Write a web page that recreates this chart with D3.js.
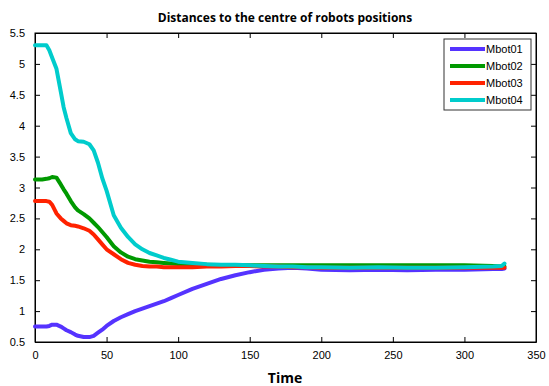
<html>
<head>
<meta charset="UTF-8">
<script src="https://d3js.org/d3.v7.min.js"></script>
<style>
  body { margin: 0; background: #fff; }
  text { font-family: "Liberation Sans Narrow", "Liberation Sans", Arial, sans-serif; }
</style>
</head>
<body>
<svg width="549" height="386"></svg>
<script>
// values
const time = [0, 5, 8, 10, 12, 15, 18, 20, 22, 25, 28, 30, 34, 38, 41, 44, 47, 50, 55, 60, 65, 70, 75, 80, 85, 90, 95, 100,
  110, 120, 130, 140, 150, 160, 170, 180, 190, 200, 220, 240, 260, 280, 300, 320, 326, 328];
const mbot01 = [0.75, 0.75, 0.75, 0.76, 0.78, 0.78, 0.75, 0.72, 0.69, 0.66, 0.62, 0.6, 0.58, 0.58, 0.6, 0.65, 0.7, 0.76, 0.84, 0.9,
  0.95, 1.0, 1.04, 1.08, 1.12, 1.16, 1.21, 1.26, 1.36, 1.44, 1.52, 1.58, 1.63, 1.67, 1.69, 1.7, 1.69, 1.67, 1.66, 1.67, 1.66,
  1.67, 1.67, 1.68, 1.68, 1.69];
const mbot02 = [3.13, 3.13, 3.14, 3.15, 3.17, 3.16, 3.05, 2.97, 2.9, 2.78, 2.68, 2.63, 2.57, 2.5, 2.43, 2.36, 2.28, 2.2, 2.05, 1.95,
  1.88, 1.84, 1.82, 1.8, 1.79, 1.78, 1.77, 1.76, 1.75, 1.75, 1.74, 1.74, 1.74, 1.74, 1.74, 1.74, 1.74, 1.74, 1.74, 1.74, 1.74,
  1.74, 1.74, 1.73, 1.72, 1.72];
const mbot03 = [2.78, 2.78, 2.78, 2.77, 2.72, 2.58, 2.5, 2.46, 2.42, 2.39, 2.38, 2.37, 2.34, 2.3, 2.24, 2.16, 2.08, 2.0, 1.92, 1.84,
  1.78, 1.75, 1.73, 1.72, 1.72, 1.71, 1.71, 1.71, 1.71, 1.72, 1.72, 1.73, 1.73, 1.72, 1.72, 1.71, 1.71, 1.7, 1.7, 1.7, 1.7,
  1.7, 1.7, 1.7, 1.7, 1.7];
const mbot04 = [5.3, 5.3, 5.3, 5.22, 5.1, 4.92, 4.55, 4.3, 4.12, 3.88, 3.78, 3.75, 3.74, 3.7, 3.6, 3.4, 3.15, 2.95, 2.55, 2.35,
  2.2, 2.08, 2.0, 1.94, 1.9, 1.86, 1.83, 1.8, 1.78, 1.76, 1.75, 1.75, 1.74, 1.73, 1.72, 1.72, 1.71, 1.71, 1.7, 1.71, 1.7,
  1.7, 1.71, 1.72, 1.73, 1.77];
const names = ["Mbot01", "Mbot02", "Mbot03", "Mbot04"];
const colors = ["#5533ff", "#009900", "#ff2200", "#00cccc"];
const xTicks = [0, 50, 100, 150, 200, 250, 300, 350];
const yTicks = [0.5, 1, 1.5, 2, 2.5, 3, 3.5, 4, 4.5, 5, 5.5];

const series = [mbot01, mbot02, mbot03, mbot04];

const L = 35, R = 536, T = 33, B = 342;
const svg = d3.select("svg");
const x = d3.scaleLinear().domain([0, 350]).range([L, R]);
const y = d3.scaleLinear().domain([0.5, 5.5]).range([B, T]);

// axes: ticks pointing inward on all four sides
svg.append("g").attr("transform", "translate(0," + B + ")")
  .call(d3.axisBottom(x).tickValues(xTicks).tickSizeInner(-5).tickSizeOuter(0).tickPadding(9).tickFormat(d3.format("d")));
svg.append("g").attr("transform", "translate(0," + T + ")")
  .call(d3.axisTop(x).tickValues(xTicks).tickSizeInner(-5).tickSizeOuter(0).tickFormat(""));
svg.append("g").attr("transform", "translate(" + L + ",0)")
  .call(d3.axisLeft(y).tickValues(yTicks).tickSizeInner(-5).tickSizeOuter(0).tickPadding(10).tickFormat(d3.format("")));
svg.append("g").attr("transform", "translate(" + R + ",0)")
  .call(d3.axisRight(y).tickValues(yTicks).tickSizeInner(-5).tickSizeOuter(0).tickFormat(""));
svg.selectAll(".domain").attr("stroke", "#000");
svg.selectAll(".tick line").attr("stroke", "#000");
svg.selectAll(".tick text").attr("font-size", 11).attr("font-family", "Liberation Sans Narrow, Liberation Sans, sans-serif").attr("fill", "#000");

svg.append("rect").attr("x", L).attr("y", T).attr("width", R - L).attr("height", B - T)
  .attr("fill", "none").attr("stroke", "#000");

const line = d3.line().x((d, i) => x(time[i])).y(d => y(d));
series.forEach((s, k) => {
  svg.append("path").datum(s).attr("d", line)
    .attr("fill", "none").attr("stroke", colors[k]).attr("stroke-width", 4)
    .attr("stroke-linejoin", "round").attr("stroke-linecap", "round");
});

// title and axis label
svg.append("text").attr("x", 285).attr("y", 22).attr("text-anchor", "middle")
  .attr("font-size", 12).attr("font-weight", "bold").style("font-family", "'Open Sans', sans-serif")
  .text("Distances to the centre of robots positions");
svg.append("text").attr("x", 285).attr("y", 383).attr("text-anchor", "middle")
  .attr("font-size", 14).attr("font-weight", "bold").style("font-family", "'Open Sans', sans-serif")
  .text("Time");

// legend
const lg = svg.append("g");
lg.append("rect").attr("x", 444).attr("y", 39).attr("width", 87).attr("height", 71)
  .attr("fill", "#fff").attr("stroke", "#333");
names.forEach((n, k) => {
  const yy = 49 + k * 17;
  lg.append("line").attr("x1", 450).attr("x2", 485).attr("y1", yy).attr("y2", yy)
    .attr("stroke", colors[k]).attr("stroke-width", 4);
  lg.append("text").attr("x", 486).attr("y", yy + 4).attr("font-size", 11).text(n);
});
</script>
</body>
</html>
